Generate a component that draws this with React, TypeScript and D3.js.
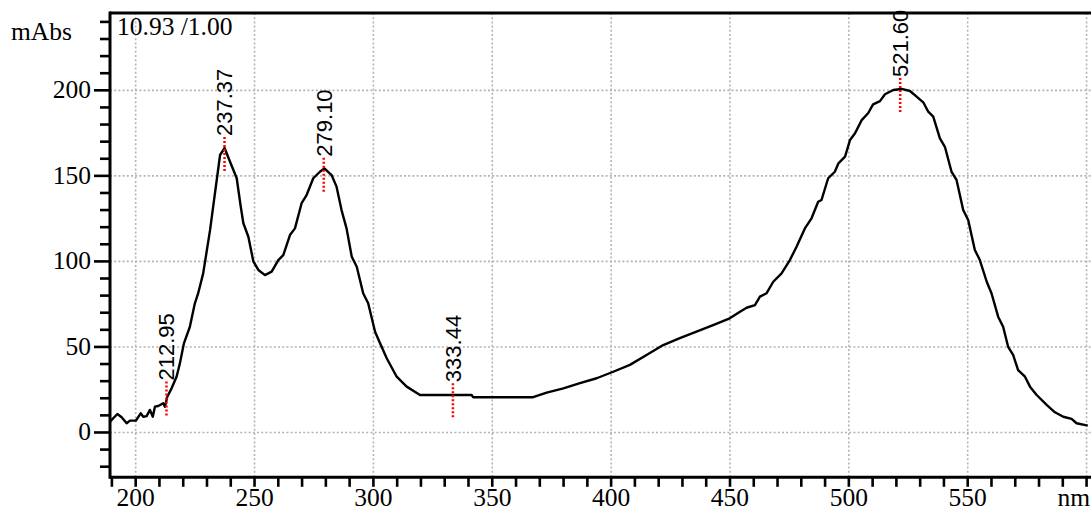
import React from "react";
import * as d3 from "d3";

// Absorbance spectrum (wavelength in nm, absorbance in mAbs)
const wavelengths = [
  189.2, 192.3, 194.1, 196.2, 197.6, 200.1, 202.1, 203.2, 204.6, 206.0, 207.2, 208.1, 209.5, 211.6,
  212.3, 213.3, 215.1, 217.2, 218.6, 220.3, 222.8, 224.9, 226.3, 228.4, 231.3, 232.6, 234.1, 235.5,
  237.4, 239.4, 241.1, 242.5, 244.2, 245.3, 247.4, 249.5, 251.6, 254.4, 257.2, 260.0, 262.1, 264.9,
  267.0, 269.8, 271.9, 274.7, 277.5, 279.4, 282.4, 284.5, 286.6, 288.7, 290.9, 293.0, 295.7, 297.8,
  300.7, 302.8, 305.6, 309.8, 314.0, 319.6, 341.3, 342.0, 367.2, 372.9, 379.9, 386.9, 393.9, 400.9,
  407.9, 414.9, 421.9, 428.9, 435.9, 442.9, 449.9, 454.2, 457.0, 460.5, 462.6, 465.4, 468.2, 471.7,
  475.2, 478.0, 481.5, 484.3, 487.1, 488.5, 491.3, 494.1, 495.6, 498.4, 500.5, 502.6, 505.4, 508.1,
  510.2, 513.1, 515.2, 518.7, 522.2, 525.7, 528.5, 531.3, 533.4, 535.5, 538.3, 540.4, 543.2, 545.3,
  548.1, 550.2, 553.0, 555.1, 558.0, 560.0, 562.8, 564.9, 567.0, 569.1, 571.2, 574.1, 576.2, 579.0,
  583.2, 586.7, 590.2, 593.7, 595.8, 600.5,
];
const absorbance = [
  6.3, 10.8, 8.9, 5.4, 6.9, 6.9, 11.2, 9.2, 9.6, 13.2, 9.2, 15.1, 15.5, 17.1,
  15.1, 20.9, 25.8, 32.6, 40.4, 52.1, 61.8, 75.5, 81.4, 93.0, 118.4, 132.0, 147.6, 162.2,
  166.3, 159.3, 153.4, 148.6, 132.0, 122.3, 114.4, 100.0, 95.0, 92.0, 94.0, 100.8, 103.7, 115.4,
  119.3, 134.0, 138.8, 148.6, 152.4, 154.4, 150.5, 143.7, 130.0, 119.3, 102.7, 96.9, 81.4, 75.5,
  58.9, 52.1, 43.4, 32.6, 26.8, 21.9, 21.9, 20.6, 20.6, 23.3, 25.8, 28.8, 31.7, 35.5,
  39.5, 45.3, 51.1, 55.1, 58.9, 62.8, 66.7, 70.6, 72.9, 74.5, 79.4, 81.4, 88.1, 93.0,
  100.8, 108.6, 119.3, 125.2, 134.9, 135.9, 148.6, 152.4, 157.3, 161.2, 171.0, 174.9, 182.6, 186.6,
  191.8, 193.7, 197.7, 200.2, 200.8, 199.6, 196.3, 193.0, 187.5, 184.6, 171.9, 167.0, 152.4, 147.6,
  130.0, 124.2, 106.7, 100.8, 88.1, 81.4, 67.7, 61.8, 50.1, 45.3, 36.5, 32.6, 26.8, 21.9,
  16.1, 11.8, 9.2, 7.9, 5.4, 4.0,
];

// Annotated peaks: wavelength label and marker height
const peakWavelengths = [212.95, 237.37, 279.1, 333.44, 521.6];
const peakLabels = ["212.95", "237.37", "279.10", "333.44", "521.60"];
const peakHeights = [23.4, 166.3, 154.2, 22.4, 200.8];

const xTickValues = [200, 250, 300, 350, 400, 450, 500, 550];
const yTickValues = [0, 50, 100, 150, 200];
const scaleHeader = "10.93 /1.00";

const W = 1091;
const H = 511;
const left = 110;
const right = 1091;
const top = 13;
const bottom = 477.3;

const serif = "'Liberation Serif', 'Times New Roman', Times, serif";
const sans = "'Liberation Sans', Arial, Helvetica, sans-serif";

export default function App() {
  const x = d3.scaleLinear().domain([189.2, 600.6]).range([left, 1088]);
  const y = d3.scaleLinear().domain([-26.2, 245.2]).range([bottom, top]);

  const points: [number, number][] = wavelengths.map((w, i) => [w, absorbance[i]]);
  const line = d3
    .line<[number, number]>()
    .x((d) => x(d[0]))
    .y((d) => y(d[1]));

  const xMinor = d3.range(190, 601, 10);
  const yMinor = d3.range(-20, 241, 10);
  const gridX = [...xTickValues, 600];

  return (
    <svg
      width={W}
      height={H}
      style={{ position: "absolute", left: 0, top: 0, background: "#fff" }}
    >
      <rect x={0} y={0} width={W} height={H} fill="#fff" />

      {/* dotted grid */}
      <g stroke="#b4b4b4" strokeWidth={1.6} strokeDasharray="2,2.2">
        {gridX.map((v) => (
          <line key={"gx" + v} x1={x(v)} x2={x(v)} y1={top} y2={bottom} />
        ))}
        {yTickValues.map((v) => (
          <line key={"gy" + v} x1={left} x2={right} y1={y(v)} y2={y(v)} />
        ))}
      </g>

      {/* spectrum */}
      <path
        d={line(points) || ""}
        fill="none"
        stroke="#000"
        strokeWidth={2.4}
        strokeLinejoin="round"
      />

      {/* peak markers */}
      {peakWavelengths.map((w, i) => {
        const px = x(w);
        const py = y(peakHeights[i]);
        return (
          <g key={"pk" + i}>
            <line
              x1={px}
              x2={px}
              y1={py - 11}
              y2={py + 24}
              stroke="#ff0000"
              strokeWidth={2.5}
              strokeDasharray="2,2"
            />
            <text
              transform={`translate(${px},${py - 12}) rotate(-90)`}
              dy="0.36em"
              fontFamily={sans}
              fontSize={22}
              fill="#000"
            >
              {peakLabels[i]}
            </text>
          </g>
        );
      })}

      {/* frame: left axis, bottom axis, top border */}
      <g stroke="#000" strokeWidth={3}>
        <line x1={left} x2={left} y1={top - 1.5} y2={bottom + 1.5} />
        <line x1={left} x2={right} y1={bottom} y2={bottom} />
        <line x1={left} x2={right} y1={top} y2={top} />
      </g>

      {/* y ticks */}
      <g stroke="#000" strokeWidth={2.6}>
        {yMinor.map((v) => (
          <line
            key={"yt" + v}
            x1={v % 50 === 0 ? 94 : 100}
            x2={left}
            y1={y(v)}
            y2={y(v)}
          />
        ))}
      </g>
      {yTickValues.map((v) => (
        <text
          key={"yl" + v}
          x={91}
          y={y(v) + 8}
          textAnchor="end"
          fontFamily={serif}
          fontSize={25.5}
          fill="#000"
        >
          {v}
        </text>
      ))}

      {/* x ticks */}
      <g stroke="#000" strokeWidth={2.6}>
        {xMinor.map((v) => (
          <line key={"xt" + v} x1={x(v)} x2={x(v)} y1={bottom} y2={bottom + 9.5} />
        ))}
      </g>
      {xTickValues.map((v) => (
        <text
          key={"xl" + v}
          x={x(v)}
          y={505.5}
          textAnchor="middle"
          fontFamily={serif}
          fontSize={25.5}
          fill="#000"
        >
          {v}
        </text>
      ))}

      {/* axis units and scale header */}
      <text x={1090} y={505.5} textAnchor="end" fontFamily={serif} fontSize={25.5} fill="#000">
        nm
      </text>
      <text x={11} y={40} fontFamily={serif} fontSize={25.5} fill="#000">
        mAbs
      </text>
      <text x={117} y={35} fontFamily={serif} fontSize={25.5} fill="#000">
        {scaleHeader}
      </text>
    </svg>
  );
}
